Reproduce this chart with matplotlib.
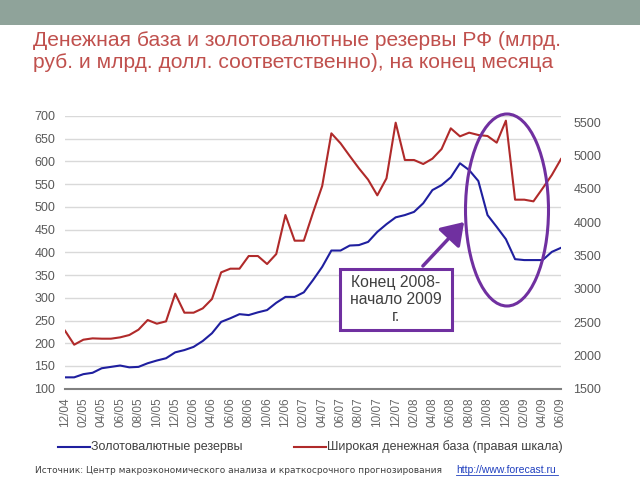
import matplotlib
matplotlib.use("Agg")
import matplotlib.pyplot as plt
from matplotlib.patches import Ellipse, Rectangle, FancyArrowPatch
import numpy as np

plt.rcParams['font.family'] = ['Liberation Sans', 'DejaVu Sans']

# Monthly data, 12/2004 .. 06/2009
reserves = [125, 125, 132, 135, 145, 148, 151, 147, 148, 156, 162, 167,
            180, 185, 192, 205, 222, 247, 255, 264, 262, 268, 273, 289,
            302, 302, 312, 339, 368, 404, 404, 415, 416, 423, 445, 462,
            477, 482, 489, 508, 537, 548, 565, 596, 581, 557, 482, 456,
            429, 385, 383, 383, 383, 401, 410]
base = [2370, 2160, 2235, 2255, 2250, 2250, 2270, 2305, 2385, 2530, 2475, 2510,
        2925, 2640, 2640, 2705, 2845, 3245, 3300, 3300, 3490, 3490, 3370, 3520,
        4105, 3720, 3720, 4140, 4540, 5330, 5180, 4990, 4805, 4635, 4400, 4655,
        5490, 4930, 4930, 4870, 4950, 5095, 5405, 5285, 5340, 5305, 5290, 5190,
        5520, 4335, 4335, 4310, 4505, 4705, 4945]
xlabels = ['12/04', '02/05', '04/05', '06/05', '08/05', '10/05', '12/05',
           '02/06', '04/06', '06/06', '08/06', '10/06', '12/06', '02/07',
           '04/07', '06/07', '08/07', '10/07', '12/07', '02/08', '04/08',
           '06/08', '08/08', '10/08', '12/08', '02/09', '04/09', '06/09']
left_ticks = [100, 150, 200, 250, 300, 350, 400, 450, 500, 550, 600, 650, 700]
right_ticks = [1500, 2000, 2500, 3000, 3500, 4000, 4500, 5000, 5500]

fig = plt.figure(figsize=(6.4, 4.8), dpi=100)
fig.patch.set_facecolor('white')


def fx(px):
    return px / 640


def fy(py):
    return 1 - py / 480


# top band
fig.add_artist(Rectangle((0, fy(25)), 1, 25/480, transform=fig.transFigure,
                         facecolor='#8fa39a', edgecolor='none'))

title_col = '#c0504d'
fig.text(fx(33), fy(46), 'Денежная база и золотовалютные резервы РФ (млрд.',
         fontsize=15.1, color=title_col, va='baseline', ha='left')
fig.text(fx(33), fy(68.5), 'руб. и млрд. долл. соответственно), на конец месяца',
         fontsize=15.1, color=title_col, va='baseline', ha='left')

ax = fig.add_axes([fx(65), fy(388.7), (561 - 65)/640, (388.7 - 116)/480])
x = np.arange(len(reserves))
ax.plot(x, reserves, color='#1f1f9f', lw=1.5, zorder=3)
ax.set_xlim(0, len(reserves) - 1)
ax.set_ylim(100, 700)
ax.set_yticks(left_ticks)
ax.set_xticks(x[::2])
ax.set_xticklabels(xlabels, rotation=90, fontsize=8.5, color='#666666')
ax.tick_params(axis='y', length=0, labelsize=9, labelcolor='#595959', pad=7)
ax.tick_params(axis='x', length=0, pad=6)
ax.grid(axis='y', color='#d9d9d9', lw=1)
ax.set_axisbelow(True)
for s in ['left', 'right', 'top']:
    ax.spines[s].set_visible(False)
ax.spines['bottom'].set_color('#808080')
ax.spines['bottom'].set_linewidth(1.5)

ax2 = ax.twinx()
ax2.plot(x, base, color='#b02a2a', lw=1.5, zorder=3)
ax2.set_ylim(1500, 5590)
ax2.set_yticks(right_ticks)
ax2.tick_params(axis='y', length=0, labelsize=9, labelcolor='#595959', pad=9)
for s in ['left', 'right', 'top', 'bottom']:
    ax2.spines[s].set_visible(False)

# annotation: ellipse, box, arrow
purple = '#7030a0'
fig.add_artist(Ellipse((fx(507), fy(210)), 83/640, 192/480, transform=fig.transFigure,
                       facecolor='none', edgecolor=purple, lw=2.2, zorder=10))
fig.add_artist(Rectangle((fx(340), fy(330)), 112/640, 61/480, transform=fig.transFigure,
                         facecolor='white', edgecolor=purple, lw=2.2, zorder=10))
fig.text(fx(396), fy(299.5), 'Конец 2008-\nначало 2009\nг.', ha='center', va='center',
         fontsize=11.3, color='#404040', linespacing=1.15, zorder=11)
fig.add_artist(FancyArrowPatch((fx(421), fy(268)), (fx(466), fy(220)),
                               transform=fig.transFigure,
                               arrowstyle='-|>,head_length=6,head_width=4',
                               mutation_scale=2.2, color=purple, lw=2.5, zorder=10))

# legend
leg_y = 446.5
fig.add_artist(plt.Line2D([fx(58), fx(90)], [fy(leg_y), fy(leg_y)], transform=fig.transFigure,
                          color='#1f1f9f', lw=1.5))
fig.text(fx(91), fy(450), 'Золотовалютные резервы', fontsize=9, color='#404040',
         va='baseline', ha='left')
fig.add_artist(plt.Line2D([fx(294), fx(326)], [fy(leg_y), fy(leg_y)], transform=fig.transFigure,
                          color='#b02a2a', lw=1.5))
fig.text(fx(327), fy(450), 'Широкая денежная база (правая шкала)', fontsize=9,
         color='#404040', va='baseline', ha='left')

# source
fig.text(fx(35), fy(473), 'Источник: Центр макроэкономического анализа и краткосрочного прогнозирования',
         fontsize=6.45, color='#404040', va='baseline', ha='left', family='DejaVu Sans')
fig.text(fx(456), fy(473), 'http://www.forecast.ru', fontsize=7.5, color='#1f3fbf',
         va='baseline', ha='left')
fig.add_artist(plt.Line2D([fx(456), fx(558)], [fy(474.5), fy(474.5)], transform=fig.transFigure,
                          color='#1f3fbf', lw=0.6))

fig.savefig('out.png', dpi=100)
